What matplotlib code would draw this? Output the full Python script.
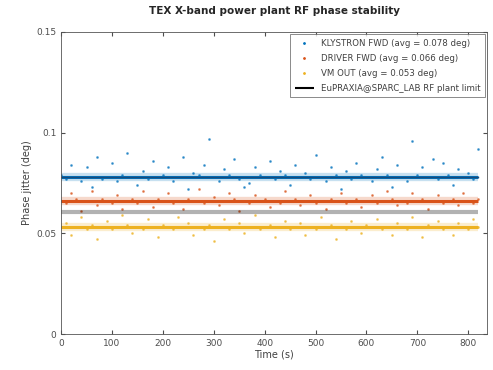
import numpy as np
import matplotlib.pyplot as plt

# sample times (s)
t = np.arange(0, 830, 10)

klystron = [0.079, 0.077, 0.084, 0.078, 0.076, 0.083, 0.073, 0.088, 0.077, 0.078,
            0.085, 0.076, 0.079, 0.090, 0.078, 0.074, 0.081, 0.077, 0.086, 0.078,
            0.079, 0.083, 0.076, 0.078, 0.088, 0.072, 0.080, 0.079, 0.084, 0.097,
            0.078, 0.076, 0.082, 0.079, 0.087, 0.077, 0.073, 0.075, 0.083, 0.079,
            0.078, 0.086, 0.077, 0.081, 0.079, 0.074, 0.084, 0.078, 0.080, 0.077,
            0.089, 0.078, 0.076, 0.083, 0.079, 0.072, 0.081, 0.077, 0.085, 0.079,
            0.078, 0.076, 0.082, 0.088, 0.079, 0.073, 0.084, 0.078, 0.076, 0.096,
            0.079, 0.083, 0.078, 0.087, 0.077, 0.085, 0.079, 0.074, 0.082, 0.078,
            0.080, 0.077, 0.092]
driver = [0.066, 0.065, 0.070, 0.067, 0.061, 0.066, 0.071, 0.064, 0.067, 0.066,
          0.065, 0.069, 0.062, 0.066, 0.067, 0.065, 0.071, 0.066, 0.063, 0.067,
          0.066, 0.070, 0.065, 0.066, 0.062, 0.067, 0.066, 0.072, 0.065, 0.066,
          0.068, 0.064, 0.066, 0.070, 0.067, 0.061, 0.066, 0.065, 0.069, 0.066,
          0.067, 0.063, 0.066, 0.065, 0.071, 0.066, 0.067, 0.064, 0.066, 0.069,
          0.065, 0.066, 0.062, 0.067, 0.066, 0.070, 0.065, 0.066, 0.067, 0.063,
          0.066, 0.069, 0.065, 0.066, 0.071, 0.067, 0.064, 0.066, 0.065, 0.070,
          0.066, 0.067, 0.062, 0.066, 0.069, 0.065, 0.066, 0.067, 0.064, 0.070,
          0.066, 0.065, 0.067]
vm_out = [0.053, 0.055, 0.049, 0.053, 0.058, 0.052, 0.054, 0.047, 0.053, 0.056,
          0.052, 0.053, 0.059, 0.054, 0.050, 0.053, 0.052, 0.057, 0.053, 0.048,
          0.054, 0.053, 0.052, 0.058, 0.053, 0.055, 0.049, 0.053, 0.052, 0.054,
          0.046, 0.053, 0.057, 0.052, 0.053, 0.055, 0.050, 0.053, 0.059, 0.052,
          0.053, 0.054, 0.048, 0.053, 0.056, 0.052, 0.053, 0.055, 0.049, 0.053,
          0.052, 0.058, 0.053, 0.054, 0.047, 0.053, 0.052, 0.056, 0.053, 0.050,
          0.054, 0.053, 0.057, 0.052, 0.053, 0.049, 0.055, 0.053, 0.052, 0.058,
          0.053, 0.048, 0.054, 0.053, 0.056, 0.052, 0.053, 0.049, 0.055, 0.053,
          0.052, 0.057, 0.053]

avg_klystron = 0.078
avg_driver = 0.066
avg_vm = 0.053
plant_limit = 0.0605

labels = ['KLYSTRON FWD (avg = 0.078 deg)',
          'DRIVER FWD (avg = 0.066 deg)',
          'VM OUT (avg = 0.053 deg)',
          'EuPRAXIA@SPARC_LAB RF plant limit']

c_blue = '#0072BD'
c_orange = '#D95319'
c_yellow = '#EDB120'

fig = plt.figure(figsize=(4.93, 3.70), dpi=100)
ax = fig.add_axes([0.124, 0.097, 0.864, 0.817])

ax.plot(t, klystron, '.', color=c_blue, markersize=2, alpha=0.6, label=labels[0])
ax.plot(t, driver, '.', color=c_orange, markersize=2, alpha=0.6, label=labels[1])
ax.plot(t, vm_out, '.', color=c_yellow, markersize=2, alpha=0.6, label=labels[2])

# average bands
tt = [t[0], t[-1]]
for avg, c in [(avg_klystron, c_blue), (avg_driver, c_orange), (avg_vm, c_yellow)]:
    ax.plot(tt, [avg, avg], color=c, lw=6, alpha=0.22, solid_capstyle='butt')
    ax.plot(tt, [avg, avg], color=c, lw=2.2, solid_capstyle='butt')
ax.plot(tt, [avg_klystron, avg_klystron], color='#1a4a7a', lw=1.0)

ax.plot(tt, [plant_limit, plant_limit], color='k', lw=3, alpha=0.3,
        solid_capstyle='butt', label=labels[3])

ax.set_xlim(0, 837)
ax.set_ylim(0, 0.15)
ax.set_xticks(range(0, 900, 100))
ax.set_yticks([0, 0.05, 0.1, 0.15])
ax.set_yticklabels(['0', '0.05', '0.1', '0.15'])
ax.tick_params(direction='in', labelsize=6.5, length=3, colors='#4d4d4d',
               top=True, right=True)
for s in ax.spines.values():
    s.set_color('#555555')
    s.set_linewidth(0.6)

ax.set_title('TEX X-band power plant RF phase stability', fontsize=7.5,
             fontweight='bold', pad=13, color='#262626')
ax.set_xlabel('Time (s)', fontsize=7, labelpad=1, color='#404040')
ax.set_ylabel('Phase jitter (deg)', fontsize=7, labelpad=3, color='#404040')

leg = ax.legend(loc='upper right', fontsize=6.2, frameon=True, fancybox=False,
                edgecolor='#555555', borderaxespad=0.3, handlelength=2.2,
                labelspacing=0.7, markerscale=1.0, borderpad=0.5)
leg.get_frame().set_linewidth(0.6)
for txt in leg.get_texts():
    txt.set_color('#404040')
for ln in leg.get_lines():
    ln.set_alpha(1)
leg.get_lines()[-1].set_linewidth(1.5)

fig.savefig('out.png', dpi=100)
